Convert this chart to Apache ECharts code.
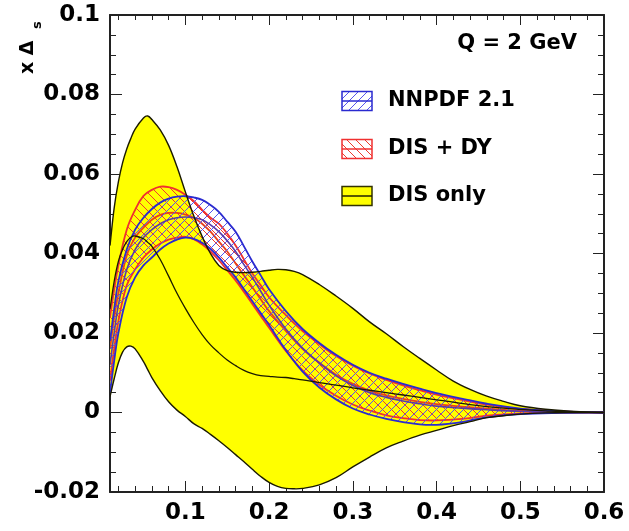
<!DOCTYPE html>
<html>
<head>
<meta charset="utf-8">
<script src="https://cdn.jsdelivr.net/npm/echarts@6/dist/echarts.min.js"></script>
<style>
html,body{margin:0;padding:0;background:#fff;}
#chart{width:629px;height:531px;}
</style>
</head>
<body>
<div id="chart"></div>
<script>
// ---------- DATA ----------
// DIS only band (yellow)
const xDis = [0.01,0.015,0.02,0.025,0.03,0.035,0.04,0.05,0.055,0.06,0.07,0.08,0.09,0.1,0.11,0.12,0.13,0.14,0.15,0.16,0.17,0.18,0.19,0.2,0.21,0.22,0.23,0.24,0.26,0.28,0.3,0.32,0.34,0.36,0.38,0.4,0.42,0.44,0.46,0.48,0.5,0.53,0.56,0.6];
const disUpper = [0.042,0.0515,0.058,0.0628,0.0663,0.069,0.0713,0.0741,0.0746,0.0737,0.0711,0.0672,0.0618,0.0555,0.0495,0.0443,0.040,0.037,0.0357,0.0353,0.0352,0.0353,0.0355,0.0358,0.036,0.0359,0.0355,0.0347,0.0322,0.0293,0.0262,0.0228,0.0198,0.0166,0.0136,0.0107,0.0079,0.0058,0.0041,0.0028,0.0017,0.0008,0.0003,0.0];
const disLower = [0.004,0.0085,0.0125,0.0152,0.0165,0.0167,0.016,0.0128,0.0108,0.0088,0.0055,0.0027,0.0006,-0.001,-0.0028,-0.004,-0.0055,-0.0071,-0.0088,-0.0106,-0.0124,-0.0143,-0.0161,-0.0176,-0.0186,-0.0191,-0.0192,-0.0191,-0.0182,-0.0164,-0.0137,-0.0112,-0.0089,-0.0072,-0.0057,-0.0045,-0.0033,-0.0023,-0.0013,-0.0008,-0.0004,-0.0001,0,0];
const disCentral = [0.026,0.033,0.038,0.041,0.043,0.0441,0.0444,0.0437,0.0428,0.0418,0.0385,0.0343,0.030,0.0262,0.0227,0.0196,0.017,0.015,0.0132,0.0118,0.0106,0.0098,0.0093,0.0091,0.0089,0.0088,0.0085,0.0082,0.0075,0.0069,0.0062,0.0056,0.005,0.0044,0.0038,0.0032,0.0026,0.002,0.0015,0.0011,0.0008,0.0004,0.0001,0];

// DIS + DY and NNPDF 2.1 bands
const xBand = [0.01,0.015,0.02,0.03,0.04,0.05,0.06,0.07,0.08,0.09,0.1,0.11,0.12,0.13,0.14,0.15,0.16,0.17,0.18,0.19,0.2,0.22,0.24,0.26,0.28,0.3,0.32,0.34,0.36,0.38,0.4,0.43,0.46,0.5,0.55,0.6];
const dyUpper = [0.024,0.031,0.037,0.046,0.051,0.0545,0.056,0.0568,0.0567,0.056,0.0548,0.0532,0.051,0.049,0.0475,0.045,0.042,0.0385,0.035,0.032,0.029,0.0245,0.0205,0.0172,0.0142,0.0118,0.0098,0.0082,0.0068,0.0056,0.0045,0.0032,0.002,0.0009,0.0003,0];
const dyCentral = [0.016,0.024,0.030,0.0395,0.044,0.0465,0.0485,0.0497,0.0502,0.0502,0.0498,0.049,0.0475,0.0455,0.043,0.0405,0.0375,0.0345,0.0315,0.0285,0.0255,0.0205,0.016,0.0125,0.0095,0.0072,0.0055,0.0043,0.0034,0.0027,0.0021,0.0015,0.001,0.0004,0.0001,0];
const dyLower = [0.008,0.016,0.023,0.032,0.036,0.039,0.041,0.0425,0.0435,0.044,0.0442,0.0436,0.0423,0.0405,0.0383,0.0358,0.0332,0.0303,0.0273,0.0243,0.0213,0.0155,0.0106,0.007,0.0042,0.002,0.0005,-0.0007,-0.0014,-0.0019,-0.002,-0.0016,-0.0008,-0.0002,0,0];
const nnUpper = [0.018,0.026,0.033,0.041,0.046,0.049,0.0512,0.0528,0.0538,0.0543,0.0544,0.0541,0.0535,0.0522,0.0505,0.048,0.0455,0.0418,0.038,0.0345,0.031,0.0255,0.021,0.0175,0.0145,0.012,0.010,0.0085,0.0072,0.006,0.0049,0.0035,0.0022,0.001,0.0003,0];
const nnCentral = [0.012,0.02,0.027,0.036,0.041,0.044,0.046,0.0475,0.0485,0.049,0.0492,0.049,0.0485,0.0472,0.0455,0.0432,0.0405,0.0372,0.034,0.0305,0.027,0.021,0.0162,0.0125,0.0092,0.0068,0.005,0.0038,0.0029,0.0022,0.0016,0.0011,0.0007,0.0003,0.0001,0];
const nnLower = [0.005,0.013,0.020,0.029,0.034,0.037,0.039,0.041,0.0425,0.0435,0.044,0.0437,0.0427,0.0412,0.039,0.0365,0.034,0.031,0.028,0.025,0.022,0.0157,0.0103,0.0063,0.0033,0.001,-0.0005,-0.0016,-0.0024,-0.003,-0.0031,-0.0024,-0.0012,-0.0004,-0.0001,0];

// Axis ticks / labels
const xMajor = [0.1,0.2,0.3,0.4,0.5,0.6];
const xLabels = ['0.1','0.2','0.3','0.4','0.5','0.6'];
const xMinor = [0.02,0.04,0.06,0.08,0.12,0.14,0.16,0.18,0.22,0.24,0.26,0.28,0.32,0.34,0.36,0.38,0.42,0.44,0.46,0.48,0.52,0.54,0.56,0.58];
const yMajor = [-0.02,0,0.02,0.04,0.06,0.08,0.1];
const yLabels = ['-0.02','0','0.02','0.04','0.06','0.08','0.1'];
const yMinor = [-0.015,-0.01,-0.005,0.005,0.01,0.015,0.025,0.03,0.035,0.045,0.05,0.055,0.065,0.07,0.075,0.085,0.09,0.095];

const legendNames = ['NNPDF 2.1','DIS + DY','DIS only'];
const titleText = 'Q = 2 GeV';

// ---------- STYLE ----------
const FONT = 'DejaVu Sans';
const YELLOW = '#ffff00';
const EDGE = '#1a1a00';
const BLUE = '#2a2ad0';
const BLUE_MID = '#5a3aa8';
const RED = '#f03030';
const RED_MID = '#e8401c';
const HATCH_BLUE = '#5555ee';
const HATCH_RED = '#ee3b2b';
const SMOOTH = 0.4;

function hatch(color, dir) {
  const s = 9;
  const c = document.createElement('canvas');
  c.width = s; c.height = s;
  const g = c.getContext('2d');
  g.strokeStyle = color; g.lineWidth = 1;
  g.beginPath();
  if (dir > 0) {
    g.moveTo(0, s); g.lineTo(s, 0);
    g.moveTo(-2, 2); g.lineTo(2, -2);
    g.moveTo(s - 2, s + 2); g.lineTo(s + 2, s - 2);
  } else {
    g.moveTo(0, 0); g.lineTo(s, s);
    g.moveTo(-2, s - 2); g.lineTo(2, s + 2);
    g.moveTo(s - 2, -2); g.lineTo(s + 2, 2);
  }
  g.stroke();
  return c;
}
const blueHatch = { image: hatch(HATCH_BLUE, 1), repeat: 'repeat' };
const redHatch = { image: hatch(HATCH_RED, -1), repeat: 'repeat' };

// smooth bezier through pixel points (same scheme as ECharts line smoothing)
function curveD(pts, s, move) {
  const n = pts.length, c = [];
  for (let i = 0; i < n; i++) {
    const cur = pts[i], prev = pts[Math.max(0, i - 1)], next = pts[Math.min(n - 1, i + 1)];
    const vx = next[0] - prev[0], vy = next[1] - prev[1];
    const d0 = Math.hypot(cur[0] - prev[0], cur[1] - prev[1]);
    const d1 = Math.hypot(next[0] - cur[0], next[1] - cur[1]);
    const r = (d0 + d1) > 0 ? d1 / (d0 + d1) : 0.5;
    c.push([cur[0] - vx * s * (1 - r), cur[1] - vy * s * (1 - r), cur[0] + vx * s * r, cur[1] + vy * s * r]);
  }
  let d = (move ? 'M' : 'L') + pts[0][0] + ' ' + pts[0][1];
  for (let i = 0; i < n - 1; i++) {
    d += ' C' + c[i][2] + ' ' + c[i][3] + ' ' + c[i + 1][0] + ' ' + c[i + 1][1] + ' ' + pts[i + 1][0] + ' ' + pts[i + 1][1];
  }
  return d;
}

function bandSeries(xs, lo, up, mids, fill, edgeColor, edgeWidth, midColor, midWidth, drawEdges, drawFill) {
  return {
    type: 'custom', coordinateSystem: 'cartesian2d', xAxisIndex: 0, yAxisIndex: 0,
    clip: true, silent: true,
    data: [[xs[0], lo[0]]],
    renderItem: function (params, api) {
      const U = xs.map((x, i) => api.coord([x, up[i]]));
      const L = xs.map((x, i) => api.coord([x, lo[i]]));
      const children = [];
      if (drawFill) {
        const d = curveD(U, SMOOTH, true) + ' ' + curveD(L.slice().reverse(), SMOOTH, false) + ' Z';
        children.push({ type: 'path', shape: { pathData: d }, style: { fill: fill, stroke: null } });
      }
      if (drawEdges) {
        children.push({ type: 'path', shape: { pathData: curveD(U, SMOOTH, true) }, style: { fill: null, stroke: edgeColor, lineWidth: edgeWidth } });
        children.push({ type: 'path', shape: { pathData: curveD(L, SMOOTH, true) }, style: { fill: null, stroke: edgeColor, lineWidth: edgeWidth } });
        if (mids) {
          const M = xs.map((x, i) => api.coord([x, mids[i]]));
          children.push({ type: 'path', shape: { pathData: curveD(M, SMOOTH, true) }, style: { fill: null, stroke: midColor, lineWidth: midWidth } });
        }
      }
      return { type: 'group', children: children };
    }
  };
}

const series = [
  bandSeries(xDis, disLower, disUpper, null, YELLOW, EDGE, 0, EDGE, 0, false, true),
  bandSeries(xBand, dyLower, dyUpper, dyCentral, redHatch, RED, 1.8, RED_MID, 1.8, true, true),
  bandSeries(xBand, nnLower, nnUpper, nnCentral, blueHatch, BLUE, 1.8, BLUE_MID, 1.6, true, true),
  bandSeries(xDis, disLower, disUpper, disCentral, null, EDGE, 1.4, EDGE, 1.3, true, false)
];

function nearest(arr, v) {
  let best = 0;
  for (let i = 1; i < arr.length; i++) if (Math.abs(arr[i] - v) < Math.abs(arr[best] - v)) best = i;
  return best;
}

const AXC = '#222';
const labelStyle = { fontFamily: FONT, fontWeight: 'bold', fontSize: 23, color: '#000' };

function xAxisDef(pos, ticks, len, withLabels, withLine) {
  return {
    type: 'value', min: 0.01, max: 0.6, position: pos,
    axisLine: { show: withLine, onZero: false, lineStyle: { color: AXC, width: 2 } },
    axisTick: { show: true, inside: true, length: len, customValues: ticks, lineStyle: { color: AXC, width: 1 } },
    axisLabel: withLabels ? Object.assign({ show: true, margin: 10, customValues: xMajor,
      formatter: (v) => xLabels[nearest(xMajor, v)] }, labelStyle) : { show: false },
    splitLine: { show: false }
  };
}
function yAxisDef(pos, ticks, len, withLabels, withLine) {
  return {
    type: 'value', min: -0.02, max: 0.1, position: pos,
    axisLine: { show: withLine, onZero: false, lineStyle: { color: AXC, width: 2 } },
    axisTick: { show: true, inside: true, length: len, customValues: ticks, lineStyle: { color: AXC, width: 1 } },
    axisLabel: withLabels ? Object.assign({ show: true, margin: 10, customValues: yMajor, padding: [6, 0, 0, 0],
      formatter: (v) => yLabels[nearest(yMajor, v)] }, labelStyle) : { show: false },
    splitLine: { show: false }
  };
}

const LX = 342, LW = 30, LH = 19;
const legendRows = [
  { cy: 101, fill: blueHatch, stroke: BLUE, mid: BLUE },
  { cy: 149, fill: redHatch, stroke: RED, mid: RED },
  { cy: 196, fill: YELLOW, stroke: '#333300', mid: '#222200' }
];
const graphic = [];
legendRows.forEach((r, i) => {
  graphic.push({ type: 'rect', z: 100, silent: true, shape: { x: LX, y: r.cy - LH / 2, width: LW, height: LH },
    style: { fill: r.fill, stroke: r.stroke, lineWidth: 1.5 } });
  graphic.push({ type: 'line', z: 101, silent: true, shape: { x1: LX, y1: r.cy, x2: LX + LW, y2: r.cy },
    style: { stroke: r.mid, lineWidth: 1.5 } });
  graphic.push({ type: 'text', z: 101, silent: true, x: 388, y: r.cy,
    style: { text: legendNames[i], fontFamily: FONT, fontWeight: 'bold', fontSize: 21, fill: '#000',
      align: 'left', verticalAlign: 'middle' } });
});
graphic.push({ type: 'text', z: 101, silent: true, x: 577, y: 44,
  style: { text: titleText, fontFamily: FONT, fontWeight: 'bold', fontSize: 21, fill: '#000', align: 'right', verticalAlign: 'middle' } });
graphic.push({ type: 'text', z: 101, silent: true, x: 28, y: 74, rotation: Math.PI / 2,
  style: { text: 'x Δ', fontFamily: FONT, fontWeight: 'bold', fontSize: 19, fill: '#000', align: 'left', verticalAlign: 'middle' } });
graphic.push({ type: 'text', z: 101, silent: true, x: 38, y: 29, rotation: Math.PI / 2,
  style: { text: 's', fontFamily: FONT, fontWeight: 'bold', fontSize: 13, fill: '#000', align: 'left', verticalAlign: 'middle' } });

const chart = echarts.init(document.getElementById('chart'), null, { renderer: 'canvas' });
chart.setOption({
  animation: false,
  backgroundColor: '#fff',
  grid: { left: 110, right: 25, top: 15, bottom: 39, containLabel: false },
  xAxis: [
    xAxisDef('bottom', xMajor, 11, true, true),
    xAxisDef('bottom', xMinor, 6, false, false),
    xAxisDef('top', xMajor, 10, false, true),
    xAxisDef('top', xMinor, 5, false, false)
  ],
  yAxis: [
    yAxisDef('left', yMajor, 12, true, true),
    yAxisDef('left', yMinor, 6, false, false),
    yAxisDef('right', yMajor, 11, false, true),
    yAxisDef('right', yMinor, 6, false, false)
  ],
  series: series,
  graphic: graphic
});
</script>
</body>
</html>
